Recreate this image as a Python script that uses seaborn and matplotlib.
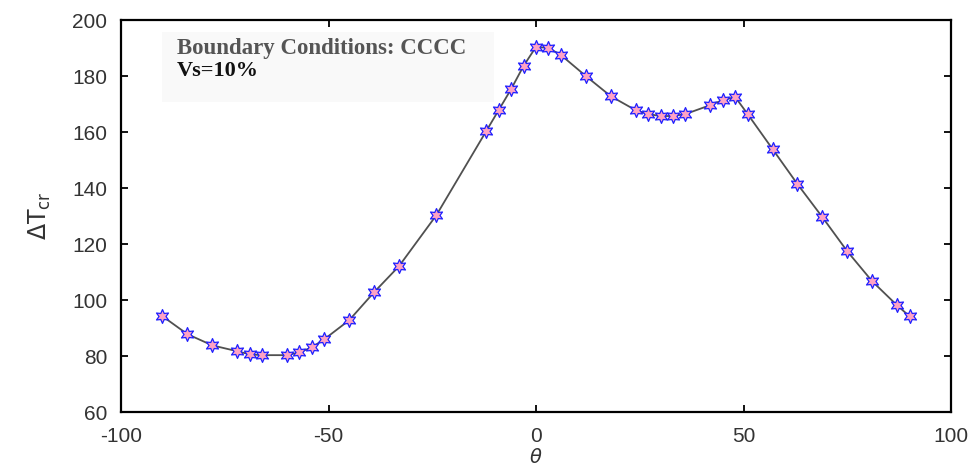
import matplotlib
matplotlib.use("Agg")
import matplotlib.pyplot as plt
import seaborn as sns
import pandas as pd
from matplotlib.patches import Rectangle

theta = [-90, -84, -78, -72, -69, -66, -60, -57, -54, -51, -45, -39, -33, -24,
         -12, -9, -6, -3, 0, 3, 6, 12, 18, 24, 27, 30, 33, 36, 42, 45, 48, 51,
         57, 63, 69, 75, 81, 87, 90]
dT_cr = [94.2, 87.8, 83.8, 81.7, 80.6, 80.3, 80.3, 81.3, 83.1, 86.0, 92.8,
         102.8, 112.1, 130.3, 160.3, 167.8, 175.3, 183.6, 190.4, 190.0, 187.5,
         180.0, 172.8, 167.8, 166.4, 165.7, 165.7, 166.4, 169.6, 171.4, 172.5,
         166.4, 153.9, 141.4, 129.6, 117.4, 106.7, 98.1, 94.2]
x_ticks = [-100, -50, 0, 50, 100]
y_ticks = [60, 80, 100, 120, 140, 160, 180, 200]
title_line1 = "Boundary Conditions: CCCC"
title_line2 = "Vs=10%"

df = pd.DataFrame({"theta": theta, "dT": dT_cr})

sns.set_theme(style="ticks")
plt.rcParams["font.family"] = ["Liberation Sans", "DejaVu Sans"]
plt.rcParams["mathtext.fontset"] = "dejavusans"
plt.rcParams["axes.unicode_minus"] = False

fig = plt.figure(figsize=(9.74, 4.71), dpi=100)
ax = fig.add_axes([121 / 974, 1 - 412 / 471, (951 - 121) / 974, (412 - 20) / 471])

sns.lineplot(data=df, x="theta", y="dT", ax=ax, color="#505050", linewidth=1.3,
             sort=True, zorder=2)
sns.scatterplot(data=df, x="theta", y="dT", ax=ax, marker=(6, 1, 0), s=100,
                facecolor="#ffa3c4", edgecolor="#2020ff", linewidth=0.9, zorder=3)

ax.set_xlim(-100, 100)
ax.set_ylim(60, 200)
ax.set_xticks(x_ticks)
ax.set_yticks(y_ticks)
ax.tick_params(direction="in", length=5, width=1.3, top=True, right=True,
               labelsize=15, colors="black")
ax.tick_params(axis="both", labelcolor="#333333")
ax.tick_params(axis="x", pad=11)
ax.tick_params(axis="y", pad=10)
for sp in ax.spines.values():
    sp.set_linewidth(1.6)
    sp.set_color("black")

ax.set_xlabel(r"$\theta$", fontsize=14, color="#333333", labelpad=1)
ax.set_ylabel(r"$\Delta\mathrm{T}_{\mathrm{cr}}$", fontsize=17, color="#333333", labelpad=14)

# faint annotation box
ax.add_patch(Rectangle(((162 - 121) / 830, (412 - 102) / 392), (494 - 162) / 830, (102 - 32) / 392,
                       transform=ax.transAxes, facecolor="#f9f9f9", edgecolor="none", zorder=1))
fig.text(177 / 974, 1 - 54 / 471, title_line1, family="Liberation Serif", weight="bold",
         fontsize=16.5, color="#555555", va="baseline", ha="left")
fig.text(177 / 974, 1 - 76 / 471, title_line2, family="Liberation Serif", weight="bold",
         fontsize=16, color="#111111", va="baseline", ha="left")

fig.savefig("out.png", dpi=100)
